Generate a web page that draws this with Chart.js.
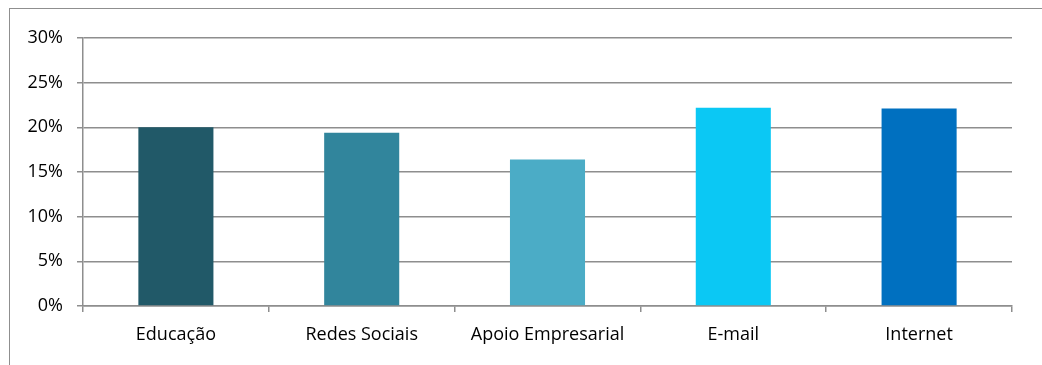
<!DOCTYPE html>
<html>
<head>
<meta charset="utf-8">
<script src="https://cdn.jsdelivr.net/npm/chart.js@4/dist/chart.umd.min.js"></script>
<style>
  html, body { margin: 0; padding: 0; background: #fff; overflow: hidden; }
  #wrap { position: relative; width: 1042px; height: 365px; }
  #frame {
    position: absolute; left: 9px; top: 8px; width: 1100px; height: 400px;
    border: 1.5px solid #8f8f8f; box-sizing: border-box;
  }
  canvas { position: absolute; left: 0; top: 0; }
</style>
</head>
<body>
<div id="wrap">
  <div id="frame"></div>
  <canvas id="usageChart" width="1042" height="365"></canvas>
</div>
<script>
// ## USAGE CHART ##

const categories = ["Educação", "Redes Sociais", "Apoio Empresarial", "E-mail", "Internet"];
const shares = [20.0, 19.4, 16.4, 22.2, 22.1];
const barColors = ["#215968", "#31859c", "#4bacc6", "#0bc8f4", "#0070c0"];
const yTicks = [0, 5, 10, 15, 20, 25, 30];

const gridColor = "#8e8e8e";
const labelFont = { family: "Open Sans", size: 18 };

var ctx = document.getElementById("usageChart").getContext("2d");

window.usageChart = new Chart(ctx, {
  type: "bar",
  data: {
    labels: categories,
    datasets: [
      {
        label: "Uso",
        data: shares,
        backgroundColor: barColors,
        borderWidth: 0,
        barPercentage: 0.404,
        categoryPercentage: 1,
      },
    ],
  },
  options: {
    responsive: false,
    animation: false,
    layout: {
      padding: { top: 38, right: 30, left: 0, bottom: 0 },
    },
    plugins: {
      legend: { display: false },
      tooltip: { enabled: false },
    },
    scales: {
      x: {
        afterFit: (scale) => {
          scale.height = 59;
        },
        grid: {
          offset: true,
          drawOnChartArea: false,
          drawTicks: true,
          tickLength: 6,
          color: gridColor,
          lineWidth: 1.5,
        },
        border: { color: gridColor, width: 1.5 },
        ticks: {
          color: "#000",
          font: labelFont,
          padding: 12,
        },
      },
      y: {
        min: 0,
        max: 30,
        afterFit: (scale) => {
          scale.width = 83;
        },
        afterBuildTicks: (scale) => {
          scale.ticks = yTicks.map((v) => ({ value: v }));
        },
        grid: {
          color: gridColor,
          lineWidth: 1.5,
          tickLength: 6,
        },
        border: { color: gridColor, width: 1.5 },
        ticks: {
          color: "#000",
          font: labelFont,
          padding: 14,
          callback: (value) => value + "%",
        },
      },
    },
  },
});
</script>
</body>
</html>
